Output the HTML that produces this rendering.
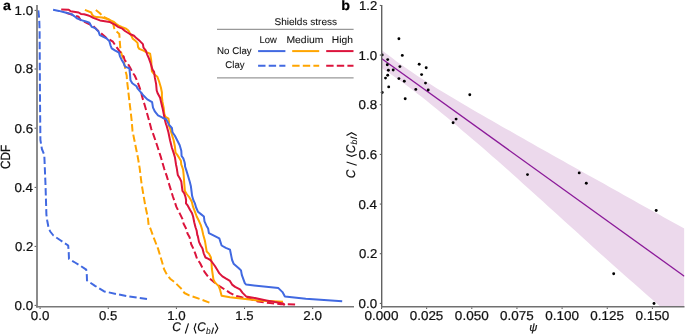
<!DOCTYPE html><html><head><meta charset="utf-8"><style>html,body{margin:0;padding:0;background:#fff;overflow:hidden}svg{display:block;will-change:transform}</style></head><body>
<svg width="685" height="335" viewBox="0 0 685 335" font-family="Liberation Sans, sans-serif">
<style>text{text-rendering:geometricPrecision;stroke:#111;stroke-width:0.22px}</style>
<rect width="685" height="335" fill="#fff"/>
<defs><clipPath id="ca"><rect x="37" y="4" width="318" height="302.5"/></clipPath><clipPath id="cb"><rect x="381.5" y="4" width="303" height="302.3"/></clipPath></defs>
<g clip-path="url(#ca)" fill="none" stroke-width="2.0" stroke-linejoin="round">
<polyline points="95.8,10.0 100.2,13.5 102.5,16.3 108.8,19.3 112.6,21.6 113.6,25.6 114.3,28.5 116.0,31.0 119.3,34.0 119.6,38.5 120.2,47.0 121.0,52.0 123.1,58.8 124.9,66.6 125.2,70.0 126.7,75.5 127.0,80.7 127.9,87.9 129.3,100.4 130.6,111.2 131.6,120.0 132.5,130.7 134.3,139.7 136.1,148.7 137.9,157.6 139.7,168.4 140.7,176.8 141.6,184.0 143.4,194.7 145.2,205.4 147.9,218.0 148.6,225.0 150.6,229.0 153.4,236.9 158.1,248.9 161.7,260.8 164.1,269.2 166.5,273.9 170.1,278.7 174.8,282.3 178.4,285.9 182.0,289.4 184.4,293.0 189.2,295.4 199.9,299.0 209.4,302.6" stroke="#ffa500" stroke-dasharray="7.359,3.184"/>
<polyline points="66.0,12.8 74.2,15.4 78.6,16.8 81.3,21.0 84.0,21.5 93.3,26.1 97.2,29.9 100.2,32.6 106.0,37.5 112.9,41.7 116.5,47.1 120.1,51.9 123.7,56.6 124.6,60.0 128.1,64.2 129.9,67.2 132.9,73.1 134.7,75.5 137.7,82.1 138.9,85.7 141.3,92.2 141.9,95.8 143.1,100.0 144.9,105.8 148.5,118.4 151.3,129.0 153.6,135.1 157.2,145.8 160.7,156.6 162.7,163.6 164.3,169.0 166.7,175.9 169.2,184.5 172.8,196.2 176.4,206.9 180.2,214.4 182.4,218.9 183.6,223.7 186.6,229.6 187.5,233.5 189.6,237.2 191.2,244.3 193.0,247.9 195.4,253.9 197.2,259.3 200.0,263.0 204.5,271.9 209.0,277.9 213.4,281.6 219.4,286.1 225.4,289.9 229.9,292.8 235.8,295.8 241.8,297.3 247.8,298.1 258.0,301.6 270.0,303.0 281.0,304.2 288.4,304.3 295.1,304.6" stroke="#dc143c" stroke-dasharray="7.330,3.172"/>
<polyline points="38.3,10.4 39.2,18.5 39.6,30.0 40.0,100.0 40.4,140.0 41.9,149.0 44.3,154.9 45.5,184.8 46.4,214.6 47.3,221.0 48.4,227.0 50.2,231.5 53.4,235.5 60.0,240.0 68.2,245.5 68.7,252.0 69.0,258.9 75.0,262.5 80.2,265.6 86.2,269.7 86.8,275.0 87.0,280.4 95.0,285.8 104.2,291.4 118.3,294.4 129.3,296.5 147.0,299.0" stroke="#4169e1" stroke-dasharray="7.326,3.170"/>
<polyline points="84.9,9.8 91.2,12.5 92.2,14.8 93.5,16.2 96.6,17.1 102.2,17.5 108.2,19.3 113.4,21.6 116.0,23.8 119.4,26.0 122.2,27.2 126.1,28.7 128.4,30.5 131.6,36.3 132.8,38.7 135.7,41.1 137.5,42.9 138.1,47.1 139.3,48.9 143.5,50.7 147.1,52.5 150.1,53.7 150.7,57.2 151.3,60.8 151.5,66.0 151.9,71.3 154.3,74.3 157.3,76.7 159.1,81.5 160.9,87.5 161.9,92.5 161.9,97.2 162.5,101.9 163.7,107.9 164.3,113.9 165.5,116.9 168.5,118.7 169.1,122.2 168.6,125.0 170.1,128.6 171.9,134.6 173.7,140.5 174.9,146.5 175.5,152.5 177.3,154.9 179.1,157.8 180.9,160.8 181.3,164.8 181.5,165.0 183.1,169.6 183.7,175.5 184.3,183.9 184.9,191.0 186.7,194.0 189.1,197.0 190.9,200.0 191.9,202.2 193.1,206.9 194.9,211.7 196.7,216.5 199.1,221.3 200.9,225.4 202.1,229.6 203.3,235.0 204.9,240.7 206.1,247.9 206.7,251.5 209.1,253.9 210.9,257.5 211.5,262.2 211.9,269.0 213.4,279.4 214.9,282.4 218.7,286.1 220.1,289.9 221.6,295.8 229.9,297.3 245.3,299.0 257.5,300.4 283.0,301.7" stroke="#ffa500"/>
<polyline points="61.2,9.4 68.8,9.8 70.6,11.2 78.6,12.5 80.9,13.9 84.0,14.3 87.6,15.2 90.0,16.1 93.3,17.9 100.0,20.4 109.7,21.9 111.9,23.1 114.9,24.6 117.9,26.8 122.4,28.7 125.0,31.0 129.8,34.0 134.0,35.7 136.3,38.1 139.9,41.1 142.9,44.1 143.5,47.7 145.9,50.7 147.1,54.3 148.9,58.4 150.7,63.5 152.5,69.6 154.1,71.9 154.9,77.9 156.1,83.9 156.7,90.5 157.8,93.6 160.1,97.8 161.3,103.1 162.5,107.9 163.7,113.9 164.9,119.9 166.1,124.6 166.4,125.0 168.4,132.2 170.1,140.5 171.9,147.7 173.7,153.1 174.9,157.2 176.1,165.0 176.6,167.2 177.8,174.9 179.6,177.9 181.3,181.5 181.9,186.3 182.5,191.0 184.3,193.4 185.5,197.0 186.1,200.0 186.0,203.4 187.8,205.7 190.1,209.9 191.9,212.9 193.1,216.5 194.3,222.5 195.5,227.2 196.7,230.8 197.3,235.0 197.8,236.0 199.0,241.9 200.7,245.5 202.5,248.5 203.7,253.3 205.5,257.5 207.9,258.7 210.4,260.0 212.7,263.0 214.9,266.0 217.2,269.7 219.4,273.4 222.4,276.4 226.1,278.7 229.9,280.9 232.1,284.6 235.1,286.9 240.0,289.4 242.6,292.9 246.1,296.4 253.1,297.7 266.3,300.4 275.0,302.1 283.0,303.4 284.7,305.2" stroke="#dc143c"/>
<polyline points="53.1,9.7 58.9,10.9 64.3,12.3 71.5,14.1 74.2,16.1 76.8,18.3 81.3,20.1 85.8,21.5 89.4,22.8 91.8,26.9 95.0,28.0 98.6,31.6 99.8,35.1 103.4,36.9 106.9,38.7 109.3,41.1 110.5,45.3 111.7,48.3 115.3,50.7 118.9,52.5 120.1,56.6 121.9,60.2 123.7,63.2 124.3,65.0 125.2,66.6 129.3,68.4 129.9,73.1 130.5,80.3 132.3,83.3 136.5,86.3 137.7,88.7 140.7,92.2 143.7,95.8 147.3,99.4 152.1,102.2 153.0,107.6 155.0,111.7 158.0,115.4 162.5,117.7 166.2,119.2 168.1,122.9 169.2,125.0 171.9,128.0 172.5,132.2 174.9,135.7 177.3,140.5 179.7,145.3 181.3,150.7 181.6,156.0 183.3,158.4 184.5,162.0 185.1,165.0 184.9,166.0 186.1,169.6 187.9,175.5 189.7,181.5 190.9,186.3 191.5,191.0 192.1,195.8 193.3,200.0 194.9,203.4 196.1,207.5 197.9,211.7 200.9,214.1 203.9,216.5 204.5,221.3 206.3,225.4 208.1,228.4 208.9,233.2 213.9,235.6 219.3,238.4 221.6,245.5 225.8,247.9 230.0,249.7 231.4,256.6 232.1,260.0 233.6,263.7 238.8,268.2 241.0,270.4 241.8,274.9 244.8,283.1 246.2,284.6 278.4,288.1 282.5,292.1 284.9,296.5 305.8,298.7 342.2,301.3" stroke="#4169e1"/>
</g>
<g stroke="#787878" stroke-width="1.7" fill="none">
<line x1="37.0" y1="5" x2="37.0" y2="307.6"/>
<line x1="36.15" y1="306.75" x2="354" y2="306.75"/>
</g>
<g stroke="#555" stroke-width="1.0"><line x1="34.6" y1="10.4" x2="36.2" y2="10.4"/><line x1="34.6" y1="69.0" x2="36.2" y2="69.0"/><line x1="34.6" y1="128.2" x2="36.2" y2="128.2"/><line x1="34.6" y1="187.4" x2="36.2" y2="187.4"/><line x1="34.6" y1="246.4" x2="36.2" y2="246.4"/><line x1="34.6" y1="305.4" x2="36.2" y2="305.4"/><line x1="40.1" y1="307.5" x2="40.1" y2="309.0"/><line x1="108.25" y1="307.5" x2="108.25" y2="309.0"/><line x1="176.4" y1="307.5" x2="176.4" y2="309.0"/><line x1="244.55" y1="307.5" x2="244.55" y2="309.0"/><line x1="312.7" y1="307.5" x2="312.7" y2="309.0"/></g>
<g clip-path="url(#cb)">
<polygon points="381.5,49.9 386.5,53.8 391.6,57.6 396.6,61.4 401.7,65.0 406.7,68.6 411.8,72.0 416.8,75.4 421.9,78.8 426.9,82.0 432.0,85.2 437.0,88.4 442.1,91.5 447.1,94.5 452.2,97.6 457.2,100.6 462.2,103.5 467.3,106.5 472.3,109.4 477.4,112.4 482.4,115.3 487.5,118.2 492.5,121.1 497.6,124.0 502.6,126.9 507.7,129.7 512.7,132.6 517.8,135.5 522.8,138.3 527.9,141.2 532.9,144.0 537.9,146.9 543.0,149.7 548.0,152.5 553.1,155.4 558.1,158.2 563.2,161.1 568.2,163.9 573.3,166.7 578.3,169.5 583.4,172.4 588.4,175.2 593.5,178.0 598.5,180.8 603.6,183.6 608.6,186.5 613.6,189.3 618.7,192.1 623.7,194.9 628.8,197.7 633.8,200.5 638.9,203.4 643.9,206.2 649.0,209.0 654.0,211.8 659.1,214.6 664.1,217.4 669.2,220.2 674.2,223.0 679.3,225.8 684.3,228.6 684.3,327.8 679.3,323.4 674.2,318.9 669.2,314.5 664.1,310.0 659.1,305.6 654.0,301.1 649.0,296.7 643.9,292.2 638.9,287.8 633.8,283.3 628.8,278.9 623.7,274.5 618.7,270.0 613.6,265.6 608.6,261.1 603.6,256.6 598.5,252.0 593.5,247.4 588.4,242.8 583.4,238.2 578.3,233.6 573.3,229.1 568.2,224.5 563.2,219.9 558.1,215.3 553.1,210.7 548.0,206.2 543.0,201.6 537.9,197.0 532.9,192.5 527.9,187.9 522.8,183.4 517.8,178.8 512.7,174.3 507.7,169.7 502.6,165.2 497.6,160.7 492.5,156.4 487.5,152.0 482.4,147.6 477.4,143.3 472.3,139.0 467.3,134.7 462.2,130.4 457.2,126.1 452.2,121.8 447.1,117.6 442.1,113.4 437.0,109.3 432.0,105.2 426.9,101.1 421.9,97.1 416.8,93.2 411.8,89.3 406.7,85.5 401.7,81.8 396.6,78.2 391.6,74.7 386.5,71.2 381.5,67.9" fill="#ecd9ec"/>
<line x1="381.5" y1="58.50" x2="684.3" y2="276.21" stroke="#8b1a99" stroke-width="1.3"/>
</g>
<circle cx="398.9" cy="38.7" r="1.45" fill="#000"/>
<circle cx="382.2" cy="54.9" r="1.45" fill="#000"/>
<circle cx="402.3" cy="55.4" r="1.45" fill="#000"/>
<circle cx="387.7" cy="59.6" r="1.45" fill="#000"/>
<circle cx="387.3" cy="64.8" r="1.45" fill="#000"/>
<circle cx="399.9" cy="66.6" r="1.45" fill="#000"/>
<circle cx="388.4" cy="70.3" r="1.45" fill="#000"/>
<circle cx="393.2" cy="70" r="1.45" fill="#000"/>
<circle cx="419.2" cy="64.2" r="1.45" fill="#000"/>
<circle cx="426.2" cy="67.8" r="1.45" fill="#000"/>
<circle cx="421.6" cy="74.6" r="1.45" fill="#000"/>
<circle cx="387.7" cy="75.3" r="1.45" fill="#000"/>
<circle cx="385.5" cy="78.1" r="1.45" fill="#000"/>
<circle cx="398.9" cy="78.6" r="1.45" fill="#000"/>
<circle cx="404.3" cy="81.3" r="1.45" fill="#000"/>
<circle cx="388.7" cy="86.9" r="1.45" fill="#000"/>
<circle cx="382.2" cy="92.5" r="1.45" fill="#000"/>
<circle cx="415.8" cy="89.4" r="1.45" fill="#000"/>
<circle cx="425.5" cy="83.1" r="1.45" fill="#000"/>
<circle cx="405.2" cy="98.8" r="1.45" fill="#000"/>
<circle cx="428.2" cy="90" r="1.45" fill="#000"/>
<circle cx="469.8" cy="94.8" r="1.45" fill="#000"/>
<circle cx="456.1" cy="119.1" r="1.45" fill="#000"/>
<circle cx="453.1" cy="122.7" r="1.45" fill="#000"/>
<circle cx="527.5" cy="174.6" r="1.45" fill="#000"/>
<circle cx="579.2" cy="172.9" r="1.45" fill="#000"/>
<circle cx="586.3" cy="183.3" r="1.45" fill="#000"/>
<circle cx="656.2" cy="210.5" r="1.45" fill="#000"/>
<circle cx="613.7" cy="273.7" r="1.45" fill="#000"/>
<circle cx="654" cy="303.5" r="1.45" fill="#000"/>
<g stroke="#707070" stroke-width="1.6" fill="none">
<line x1="381.7" y1="5" x2="381.7" y2="307.55" stroke="#626262" stroke-width="1.4"/>
<line x1="381.0" y1="306.75" x2="684.5" y2="306.75"/>
</g>
<g stroke="#555" stroke-width="1.0"><line x1="379.8" y1="5.4" x2="381" y2="5.4"/><line x1="379.8" y1="55.07" x2="381" y2="55.07"/><line x1="379.8" y1="104.73" x2="381" y2="104.73"/><line x1="379.8" y1="154.4" x2="381" y2="154.4"/><line x1="379.8" y1="204.07" x2="381" y2="204.07"/><line x1="379.8" y1="253.73" x2="381" y2="253.73"/><line x1="379.8" y1="303.4" x2="381" y2="303.4"/><line x1="381.6" y1="307.5" x2="381.6" y2="309.0"/><line x1="426.65" y1="307.5" x2="426.65" y2="309.0"/><line x1="471.8" y1="307.5" x2="471.8" y2="309.0"/><line x1="516.95" y1="307.5" x2="516.95" y2="309.0"/><line x1="562.1" y1="307.5" x2="562.1" y2="309.0"/><line x1="607.25" y1="307.5" x2="607.25" y2="309.0"/><line x1="652.4" y1="307.5" x2="652.4" y2="309.0"/></g>
<g stroke="#999" stroke-width="1.2"><line x1="217" y1="29.3" x2="353.6" y2="29.3"/><line x1="217" y1="77.8" x2="353.6" y2="77.8"/></g>
<g stroke-width="2.0">
<line x1="258.1" y1="51.1" x2="285.4" y2="51.1" stroke="#4169e1"/>
<line x1="258.1" y1="65.8" x2="285.4" y2="65.8" stroke="#4169e1" stroke-dasharray="7.4,3.2"/>
<line x1="292.2" y1="51.1" x2="319.2" y2="51.1" stroke="#ffa500"/>
<line x1="292.2" y1="65.8" x2="319.2" y2="65.8" stroke="#ffa500" stroke-dasharray="7.4,3.2"/>
<line x1="326.2" y1="51.1" x2="353.5" y2="51.1" stroke="#dc143c"/>
<line x1="326.2" y1="65.8" x2="353.5" y2="65.8" stroke="#dc143c" stroke-dasharray="7.4,3.2"/>
</g>
<text x="30.83" y="320.00" font-size="12.9" font-weight="normal" font-style="normal" textLength="18.54" lengthAdjust="spacingAndGlyphs" fill="#111">0.0</text>
<text x="98.98" y="320.00" font-size="12.9" font-weight="normal" font-style="normal" textLength="18.31" lengthAdjust="spacingAndGlyphs" fill="#111">0.5</text>
<text x="167.16" y="320.00" font-size="12.9" font-weight="normal" font-style="normal" textLength="18.50" lengthAdjust="spacingAndGlyphs" fill="#111">1.0</text>
<text x="235.33" y="320.00" font-size="12.9" font-weight="normal" font-style="normal" textLength="18.27" lengthAdjust="spacingAndGlyphs" fill="#111">1.5</text>
<text x="303.36" y="320.00" font-size="12.9" font-weight="normal" font-style="normal" textLength="18.60" lengthAdjust="spacingAndGlyphs" fill="#111">2.0</text>
<text x="364.59" y="320.00" font-size="12.9" font-weight="normal" font-style="normal" textLength="33.82" lengthAdjust="spacingAndGlyphs" fill="#111">0.000</text>
<text x="409.74" y="320.00" font-size="12.9" font-weight="normal" font-style="normal" textLength="33.60" lengthAdjust="spacingAndGlyphs" fill="#111">0.025</text>
<text x="454.89" y="320.00" font-size="12.9" font-weight="normal" font-style="normal" textLength="33.82" lengthAdjust="spacingAndGlyphs" fill="#111">0.050</text>
<text x="500.04" y="320.00" font-size="12.9" font-weight="normal" font-style="normal" textLength="33.60" lengthAdjust="spacingAndGlyphs" fill="#111">0.075</text>
<text x="545.19" y="320.00" font-size="12.9" font-weight="normal" font-style="normal" textLength="33.82" lengthAdjust="spacingAndGlyphs" fill="#111">0.100</text>
<text x="590.34" y="320.00" font-size="12.9" font-weight="normal" font-style="normal" textLength="33.60" lengthAdjust="spacingAndGlyphs" fill="#111">0.125</text>
<text x="635.49" y="320.00" font-size="12.9" font-weight="normal" font-style="normal" textLength="33.82" lengthAdjust="spacingAndGlyphs" fill="#111">0.150</text>
<text x="14.62" y="14.85" font-size="12.9" font-weight="normal" font-style="normal" textLength="18.50" lengthAdjust="spacingAndGlyphs" fill="#111">1.0</text>
<text x="14.61" y="73.45" font-size="12.9" font-weight="normal" font-style="normal" textLength="18.58" lengthAdjust="spacingAndGlyphs" fill="#111">0.8</text>
<text x="14.54" y="132.65" font-size="12.9" font-weight="normal" font-style="normal" textLength="18.65" lengthAdjust="spacingAndGlyphs" fill="#111">0.6</text>
<text x="14.46" y="191.85" font-size="12.9" font-weight="normal" font-style="normal" textLength="18.53" lengthAdjust="spacingAndGlyphs" fill="#111">0.4</text>
<text x="14.99" y="250.85" font-size="12.9" font-weight="normal" font-style="normal" textLength="18.27" lengthAdjust="spacingAndGlyphs" fill="#111">0.2</text>
<text x="14.58" y="309.85" font-size="12.9" font-weight="normal" font-style="normal" textLength="18.54" lengthAdjust="spacingAndGlyphs" fill="#111">0.0</text>
<text x="359.04" y="9.95" font-size="12.9" font-weight="normal" font-style="normal" textLength="18.22" lengthAdjust="spacingAndGlyphs" fill="#111">1.2</text>
<text x="358.62" y="59.62" font-size="12.9" font-weight="normal" font-style="normal" textLength="18.50" lengthAdjust="spacingAndGlyphs" fill="#111">1.0</text>
<text x="358.61" y="109.28" font-size="12.9" font-weight="normal" font-style="normal" textLength="18.58" lengthAdjust="spacingAndGlyphs" fill="#111">0.8</text>
<text x="358.54" y="158.95" font-size="12.9" font-weight="normal" font-style="normal" textLength="18.65" lengthAdjust="spacingAndGlyphs" fill="#111">0.6</text>
<text x="358.46" y="208.62" font-size="12.9" font-weight="normal" font-style="normal" textLength="18.53" lengthAdjust="spacingAndGlyphs" fill="#111">0.4</text>
<text x="358.99" y="258.28" font-size="12.9" font-weight="normal" font-style="normal" textLength="18.27" lengthAdjust="spacingAndGlyphs" fill="#111">0.2</text>
<text x="358.58" y="307.95" font-size="12.9" font-weight="normal" font-style="normal" textLength="18.54" lengthAdjust="spacingAndGlyphs" fill="#111">0.0</text>
<text x="274.44" y="24.55" font-size="9.8" font-weight="normal" font-style="normal" textLength="62.62" lengthAdjust="spacingAndGlyphs" fill="#111" style="stroke-width:0.08px">Shields stress</text>
<text x="259.52" y="42.65" font-size="9.8" font-weight="normal" font-style="normal" textLength="17.35" lengthAdjust="spacingAndGlyphs" fill="#111" style="stroke-width:0.08px">Low</text>
<text x="286.45" y="42.65" font-size="9.8" font-weight="normal" font-style="normal" textLength="36.94" lengthAdjust="spacingAndGlyphs" fill="#111" style="stroke-width:0.08px">Medium</text>
<text x="331.76" y="42.65" font-size="9.8" font-weight="normal" font-style="normal" textLength="21.11" lengthAdjust="spacingAndGlyphs" fill="#111" style="stroke-width:0.08px">High</text>
<text x="217.10" y="54.05" font-size="9.8" font-weight="normal" font-style="normal" textLength="34.62" lengthAdjust="spacingAndGlyphs" fill="#111" style="stroke-width:0.08px">No Clay</text>
<text x="225.31" y="68.45" font-size="9.8" font-weight="normal" font-style="normal" textLength="19.31" lengthAdjust="spacingAndGlyphs" fill="#111" style="stroke-width:0.08px">Clay</text>
<text x="2.98" y="9.90" font-size="13.6" font-weight="bold" font-style="normal" textLength="7.93" lengthAdjust="spacingAndGlyphs" fill="#000">a</text>
<text x="341.36" y="9.90" font-size="13.6" font-weight="bold" font-style="normal" textLength="8.73" lengthAdjust="spacingAndGlyphs" fill="#000">b</text>
<g transform="translate(172.9,331.4)"><text x="-0.66" y="0.00" font-size="12.6" font-weight="normal" font-style="italic" textLength="8.70" lengthAdjust="spacingAndGlyphs" fill="#111">C</text><text x="24.25" y="0.00" font-size="12.6" font-weight="normal" font-style="italic" textLength="8.49" lengthAdjust="spacingAndGlyphs" fill="#111">C</text><text x="33.18" y="2.30" font-size="8.8" font-weight="normal" font-style="italic" textLength="4.68" lengthAdjust="spacingAndGlyphs" fill="#111" style="stroke-width:0.05px">b</text><text x="38.20" y="2.30" font-size="8.8" font-weight="normal" font-style="italic" textLength="2.72" lengthAdjust="spacingAndGlyphs" fill="#111" style="stroke-width:0.05px">l</text><path d="M23.1,-8.1 L21.3,-2.9 L23.1,2.1 M42.2,-8.1 L44.9,-3.1 L42.2,2.1" fill="none" stroke="#111" stroke-width="1.15"/><path d="M15.6,-8.0 L12.4,2.1" stroke="#111" stroke-width="1.15"/></g>
<g transform="translate(354.6,177.6) rotate(-90)"><text x="-0.66" y="0.00" font-size="12.6" font-weight="normal" font-style="italic" textLength="8.70" lengthAdjust="spacingAndGlyphs" fill="#111">C</text><text x="24.25" y="0.00" font-size="12.6" font-weight="normal" font-style="italic" textLength="8.49" lengthAdjust="spacingAndGlyphs" fill="#111">C</text><text x="33.18" y="2.30" font-size="8.8" font-weight="normal" font-style="italic" textLength="4.68" lengthAdjust="spacingAndGlyphs" fill="#111" style="stroke-width:0.05px">b</text><text x="38.20" y="2.30" font-size="8.8" font-weight="normal" font-style="italic" textLength="2.72" lengthAdjust="spacingAndGlyphs" fill="#111" style="stroke-width:0.05px">l</text><path d="M23.1,-8.1 L21.3,-2.9 L23.1,2.1 M42.2,-8.1 L44.9,-3.1 L42.2,2.1" fill="none" stroke="#111" stroke-width="1.15"/><path d="M15.6,-8.0 L12.4,2.1" stroke="#111" stroke-width="1.15"/></g>
<g transform="translate(10.1,168.4) rotate(-90)"><text x="-0.59" y="0.00" font-size="13.3" font-weight="normal" font-style="normal" textLength="24.06" lengthAdjust="spacingAndGlyphs" fill="#111">CDF</text></g>
<text x="529.16" y="331.20" font-size="11.3" font-weight="normal" font-style="italic" textLength="8.11" lengthAdjust="spacingAndGlyphs" fill="#111">ψ</text>

</svg></body></html>
